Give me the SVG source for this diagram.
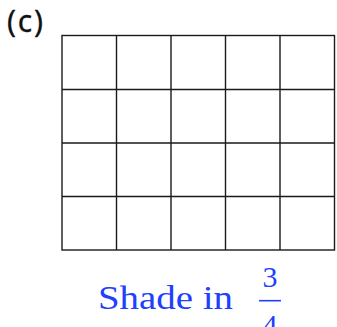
<svg xmlns="http://www.w3.org/2000/svg" width="337" height="327" viewBox="0 0 337 327">
<style>
.g{stroke:#1a1a1a;stroke-width:1.4;fill:none}
.b{fill:#2040ff;font-family:"Liberation Serif",serif}
</style>
<rect width="337" height="327" fill="#fff"/>
<text x="7" y="32" font-family="Noto Sans, sans-serif" font-size="30" fill="#111" stroke="#111" stroke-width="0.3" textLength="36">(c)</text>
<g id="grid">
<rect class="g" x="62" y="35.5" width="272.5" height="214.5"/>
<path class="g" d="M116.5 35.5V250M171 35.5V250M225.5 35.5V250M280 35.5V250M62 89.5H334.5M62 143H334.5M62 196.5H334.5"/>
</g>
<g id="label">
<text class="b" x="98" y="309" font-size="34" textLength="135" lengthAdjust="spacingAndGlyphs">Shade in</text>
<text class="b" x="270" y="287" font-size="30" text-anchor="middle">3</text>
<line x1="259" y1="300.7" x2="281" y2="300.7" stroke="#2040ff" stroke-width="1.6"/>
<text class="b" x="270" y="335" font-size="30" text-anchor="middle">4</text>
</g>
</svg>
